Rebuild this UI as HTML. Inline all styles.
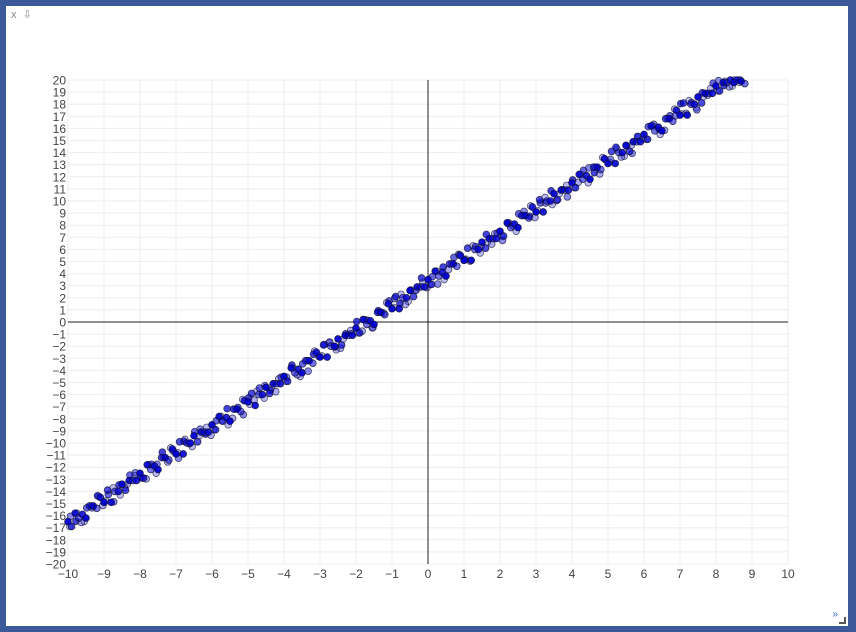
<!DOCTYPE html>
<html><head><meta charset="utf-8"><style>
html,body{margin:0;padding:0;}
body{width:856px;height:632px;background:#3b5998;position:relative;overflow:hidden;font-family:"Liberation Sans",sans-serif;}
#panel{position:absolute;left:6px;top:6px;width:842px;height:620px;background:#fff;}
#tools{position:absolute;left:5px;top:2px;font-size:11px;color:#888;}
#more{position:absolute;right:10px;bottom:6px;font-size:10px;color:#36c;}
#grip{position:absolute;right:2px;bottom:2px;width:5px;height:5px;border-right:2px solid #555;border-bottom:2px solid #555;}
svg{position:absolute;left:0;top:0;}
</style></head><body>
<div id="panel">
<div id="tools">x&nbsp;&nbsp;⇩</div>
<div id="more">»</div>
<div id="grip"></div>
</div>
<svg id="chart" width="856" height="632"></svg>
<script>
const xTicks=[-10,-9,-8,-7,-6,-5,-4,-3,-2,-1,0,1,2,3,4,5,6,7,8,9,10];
const yTicks=[20,19,18,17,16,15,14,13,12,11,10,9,8,7,6,5,4,3,2,1,0,-1,-2,-3,-4,-5,-6,-7,-8,-9,-10,-11,-12,-13,-14,-15,-16,-17,-18,-19,-20];
const xs1=[-10,-9.9,-9.8,-9.7,-9.6,-9.5,-9.4,-9.3,-9.2,-9.1,-9,-8.9,-8.8,-8.7,-8.6,-8.5,-8.4,-8.3,-8.2,-8.1,
-8,-7.9,-7.8,-7.7,-7.6,-7.5,-7.4,-7.3,-7.2,-7.1,-7,-6.9,-6.8,-6.7,-6.6,-6.5,-6.4,-6.3,-6.2,-6.1,
-6,-5.9,-5.8,-5.7,-5.6,-5.5,-5.4,-5.3,-5.2,-5.1,-5,-4.9,-4.8,-4.7,-4.6,-4.5,-4.4,-4.3,-4.2,-4.1,
-4,-3.9,-3.8,-3.7,-3.6,-3.5,-3.4,-3.3,-3.2,-3.1,-3,-2.9,-2.8,-2.7,-2.6,-2.5,-2.4,-2.3,-2.2,-2.1,
-2,-1.9,-1.8,-1.7,-1.6,-1.5,-1.4,-1.3,-1.2,-1.1,-1,-0.9,-0.8,-0.7,-0.6,-0.5,-0.4,-0.3,-0.2,-0.1,
0,0.1,0.2,0.3,0.4,0.5,0.6,0.7,0.8,0.9,1,1.1,1.2,1.3,1.4,1.5,1.6,1.7,1.8,1.9,
2,2.1,2.2,2.3,2.4,2.5,2.6,2.7,2.8,2.9,3,3.1,3.2,3.3,3.4,3.5,3.6,3.7,3.8,3.9,
4,4.1,4.2,4.3,4.4,4.5,4.6,4.7,4.8,4.9,5,5.1,5.2,5.3,5.4,5.5,5.6,5.7,5.8,5.9,
6,6.1,6.2,6.3,6.4,6.5,6.6,6.7,6.8,6.9,7,7.1,7.2,7.3,7.4,7.5,7.6,7.7,7.8,7.9,
8,8.1,8.2,8.3,8.4,8.5,8.6,8.7,8.8];
const ys1=[-16.5,-16.9,-15.8,-16.2,-15.9,-16.2,-15.2,-15.2,-15.4,-14.5,-14.9,-13.9,-14.9,-14.0,-14.0,-13.4,-13.9,-13.1,-13.1,-13.1,
-12.5,-12.9,-11.8,-12.2,-11.9,-12.2,-11.2,-11.2,-11.4,-10.5,-10.9,-9.9,-10.9,-10.0,-10.0,-9.4,-9.9,-9.1,-9.1,-9.1,
-8.5,-8.9,-7.8,-8.2,-7.9,-8.2,-7.2,-7.2,-7.4,-6.5,-6.6,-5.9,-6.9,-6.0,-6.0,-5.4,-5.9,-5.1,-5.1,-5.1,
-4.5,-4.9,-3.8,-4.2,-3.9,-4.2,-3.2,-3.2,-3.4,-2.5,-2.9,-1.9,-2.9,-2.0,-2.0,-1.4,-1.9,-1.1,-1.1,-1.1,
-0.5,-0.9,0.2,-0.2,0.1,-0.2,0.8,0.8,0.6,1.5,1.1,2.1,1.1,2.0,2.0,2.6,2.1,2.9,2.9,2.9,
3.5,3.1,4.2,3.8,4.1,3.8,4.8,4.8,4.6,5.5,5.1,6.1,5.1,6.0,6.0,6.6,6.1,6.9,6.9,6.9,
7.5,7.1,8.2,7.8,8.1,7.8,8.8,8.8,8.6,9.5,9.1,10.1,9.1,10.0,10.0,10.6,10.1,10.9,10.9,10.9,
11.5,11.1,12.2,11.8,12.1,11.8,12.8,12.8,12.6,13.5,13.1,14.1,13.1,14.0,14.0,14.6,14.1,14.9,14.9,14.9,
15.5,15.1,16.2,15.8,16.1,15.8,16.8,16.8,16.6,17.5,17.1,18.1,17.1,18.0,18.0,18.6,18.1,18.9,18.9,18.9,
19.5,19.1,19.8,19.8,20.0,19.8,20.0,19.9,19.7];
const xs2=[-9.95,-9.75,-9.55,-9.35,-9.15,-8.95,-8.75,-8.55,-8.35,-8.15,
-7.95,-7.75,-7.55,-7.35,-7.15,-6.95,-6.75,-6.55,-6.35,-6.15,
-5.95,-5.75,-5.55,-5.35,-5.15,-4.95,-4.75,-4.55,-4.35,-4.15,
-3.95,-3.75,-3.55,-3.35,-3.15,-2.95,-2.75,-2.55,-2.35,-2.15,
-1.95,-1.75,-1.55,-1.35,-1.15,-0.95,-0.75,-0.55,-0.35,-0.15,
0.05,0.25,0.45,0.65,0.85,1.05,1.25,1.45,1.65,1.85,
2.05,2.25,2.45,2.65,2.85,3.05,3.25,3.45,3.65,3.85,
4.05,4.25,4.45,4.65,4.85,5.05,5.25,5.45,5.65,5.85,
6.05,6.25,6.45,6.65,6.85,7.05,7.25,7.45,7.65,7.85,
8.05,8.25,8.45,8.65];
const ys2=[-16.9,-15.8,-16.5,-15.2,-14.4,-14.8,-13.7,-14.3,-13.4,-12.7,
-12.9,-11.8,-12.5,-11.2,-10.4,-10.8,-9.7,-10.3,-9.4,-8.7,
-8.9,-7.8,-8.5,-7.2,-6.4,-6.8,-5.7,-6.3,-5.4,-4.7,
-4.9,-3.8,-4.5,-3.2,-2.4,-2.8,-1.7,-2.3,-1.4,-0.7,
-0.9,0.2,-0.5,0.8,1.6,1.2,2.3,1.7,2.6,3.3,
3.1,4.2,3.5,4.8,5.6,5.2,6.3,5.7,6.6,7.3,
7.1,8.2,7.5,8.8,9.6,9.2,10.3,9.7,10.6,11.3,
11.1,12.2,11.5,12.8,13.6,13.2,14.3,13.7,14.6,15.3,
15.1,16.2,15.5,16.8,17.6,17.2,18.3,17.7,18.6,19.3,
19.1,19.9,19.5,19.8];
const xs3=[-9.93,-9.78,-9.63,-9.48,-9.33,-9.18,-9.03,-8.88,-8.73,-8.58,-8.43,-8.28,
-8.13,-7.98,-7.83,-7.68,-7.53,-7.38,-7.23,-7.08,-6.93,-6.78,-6.63,-6.48,
-6.33,-6.18,-6.03,-5.88,-5.73,-5.58,-5.43,-5.28,-5.13,-4.98,-4.83,-4.68,
-4.53,-4.38,-4.23,-4.08,-3.93,-3.78,-3.63,-3.48,-3.33,-3.18,-3.03,-2.88,
-2.73,-2.58,-2.43,-2.28,-2.13,-1.98,-1.83,-1.68,-1.53,-1.38,-1.23,-1.08,
-0.93,-0.78,-0.63,-0.48,-0.33,-0.18,-0.03,0.12,0.27,0.42,0.57,0.72,
0.87,1.02,1.17,1.32,1.47,1.62,1.77,1.92,2.07,2.22,2.37,2.52,
2.67,2.82,2.97,3.12,3.27,3.42,3.57,3.72,3.87,4.02,4.17,4.32,
4.47,4.62,4.77,4.92,5.07,5.22,5.37,5.52,5.67,5.82,5.97,6.12,
6.27,6.42,6.57,6.72,6.87,7.02,7.17,7.32,7.47,7.62,7.77,7.92,
8.07,8.22,8.37,8.52,8.67];
const ys3=[-16.06,-16.46,-16.56,-15.36,-15.36,-14.36,-15.16,-14.26,-14.86,-13.46,-13.66,-12.66,
-12.46,-12.86,-12.96,-11.76,-11.76,-10.76,-11.56,-10.66,-11.26,-9.86,-10.06,-9.06,
-8.86,-9.26,-9.36,-8.16,-8.16,-7.16,-7.96,-7.06,-7.66,-6.26,-6.46,-5.46,
-5.26,-5.66,-5.76,-4.56,-4.56,-3.56,-4.36,-3.46,-4.06,-2.66,-2.86,-1.86,
-1.66,-2.06,-2.16,-0.96,-0.96,0.04,-0.76,0.14,-0.46,0.94,0.74,1.74,
1.94,1.54,1.44,2.64,2.64,3.64,2.84,3.74,3.14,4.54,4.34,5.34,
5.54,5.14,5.04,6.24,6.24,7.24,6.44,7.34,6.74,8.14,7.94,8.94,
9.14,8.74,8.64,9.84,9.84,10.84,10.04,10.94,10.34,11.74,11.54,12.54,
12.74,12.34,12.24,13.44,13.44,14.44,13.64,14.54,13.94,15.34,15.14,16.14,
16.34,15.94,15.84,17.04,17.04,18.04,17.24,18.14,17.54,18.94,18.74,19.74,
19.94,19.54,19.44,20.0,20.0];

const X0=68,X1=788,Y0=564,Y1=80;
const sx=v=>X0+(v+10)/20*(X1-X0);
const sy=v=>Y0-(v+20)/40*(Y0-Y1);
const svg=document.getElementById('chart');
const NS='http://www.w3.org/2000/svg';
function mk(tag,attrs,parent){const e=document.createElementNS(NS,tag);for(const k in attrs)e.setAttribute(k,attrs[k]);(parent||svg).appendChild(e);return e;}
const grid=mk('g',{});


xTicks.forEach(t=>{
  if(t!==0){const l=mk('line',{x1:sx(t),x2:sx(t),y1:Y1,y2:Y0,stroke:'#eee','stroke-width':1},grid);
  
  }
  const tx=mk('text',{x:sx(t),y:578,'text-anchor':'middle','font-size':12,fill:'#444'});
  tx.textContent=t<0?'\u2212'+(-t):String(t);
  
  
});
yTicks.forEach(t=>{
  if(t!==0){const l=mk('line',{x1:X0,x2:X1,y1:sy(t),y2:sy(t),stroke:'#eee','stroke-width':1},grid);
  
  }
  const tx=mk('text',{x:66,y:sy(t)+4.5,'text-anchor':'end','font-size':12,fill:'#444'});
  tx.textContent=t<0?'\u2212'+(-t):String(t);
  
  
});
const ax=mk('line',{x1:X0,x2:X1,y1:sy(0),y2:sy(0),stroke:'#222','stroke-width':1});


const ay=mk('line',{x1:sx(0),x2:sx(0),y1:Y1,y2:Y0,stroke:'#222','stroke-width':1});


const g2=mk('g',{});


xs2.forEach((x,i)=>{
  const c=mk('circle',{cx:sx(x),cy:sy(ys2[i]),r:3.3,fill:'rgba(60,60,220,0.35)',stroke:'rgba(30,30,60,0.7)','stroke-width':0.8},g2);
  
  
});
const g3=mk('g',{});


xs3.forEach((x,i)=>{
  const a=[0.5,0.8,0.35,0.65][i%4];
  const c=mk('circle',{cx:sx(x),cy:sy(ys3[i]),r:3.4,fill:'rgba(20,20,210,'+a+')',stroke:'rgba(20,20,60,0.75)','stroke-width':0.8},g3);
  
  
});
const g1=mk('g',{});


xs1.forEach((x,i)=>{
  const a=[0.95,0.7,0.9,0.55,0.85][i%5];
  const c=mk('circle',{cx:sx(x),cy:sy(ys1[i]),r:3.4,fill:'rgba(0,0,210,'+a+')',stroke:'rgba(15,15,50,0.8)','stroke-width':0.8},g1);
  
  
});
</script>
</body></html>
